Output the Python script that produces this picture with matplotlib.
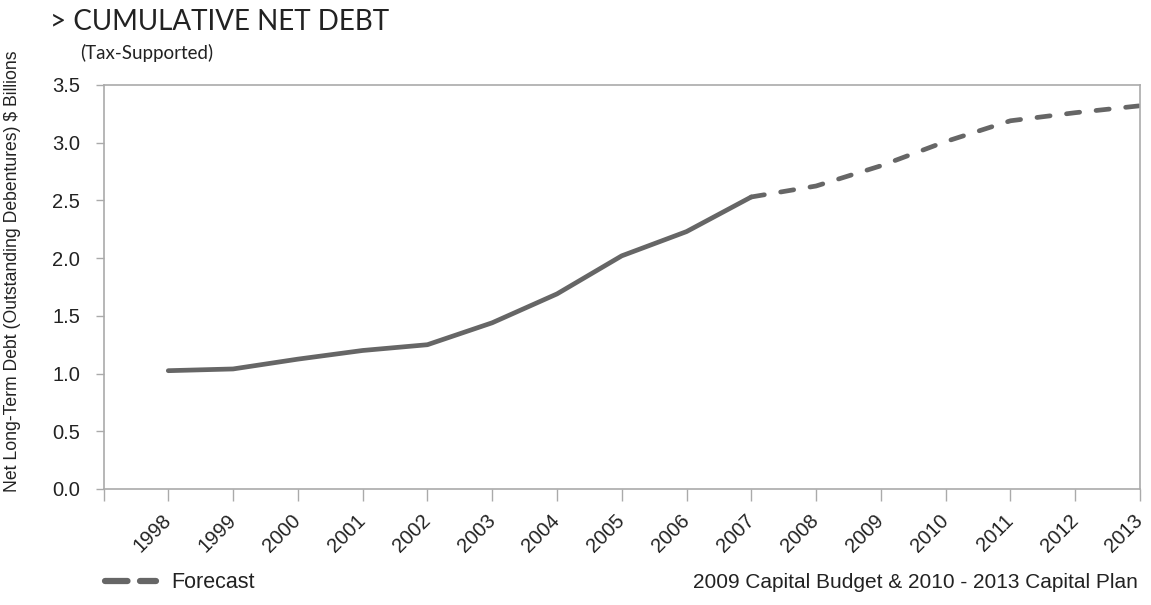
import matplotlib
matplotlib.use("Agg")
import matplotlib.pyplot as plt
from matplotlib.lines import Line2D

years = [1998, 1999, 2000, 2001, 2002, 2003, 2004, 2005, 2006, 2007,
         2008, 2009, 2010, 2011, 2012, 2013]
debt = [1.025, 1.04, 1.125, 1.20, 1.25, 1.44, 1.69, 2.02, 2.23, 2.53,
        2.625, 2.80, 3.01, 3.19, 3.26, 3.32]
actual_end = 2007
y_ticks = [0.0, 0.5, 1.0, 1.5, 2.0, 2.5, 3.0, 3.5]
x_tick_labels = [str(y) for y in years]

title = "> CUMULATIVE NET DEBT"
subtitle = "(Tax-Supported)"
ylabel = "Net Long-Term Debt (Outstanding Debentures) $ Billions"
footer = "2009 Capital Budget & 2010 - 2013 Capital Plan"
legend_label = "Forecast"

LINE = "#666666"
SPINE = "#aaaaaa"
TXT = "#222222"
plt.rcParams['font.family'] = ['Liberation Sans', 'DejaVu Sans']

fig = plt.figure(figsize=(11.51, 6.05), dpi=100)
ax = fig.add_axes([103.5 / 1151, (605 - 489) / 605, (1140 - 103.5) / 1151, (489 - 85) / 605])

i_split = years.index(actual_end)
ax.plot(years[:i_split + 1], debt[:i_split + 1], color=LINE, lw=3.4,
        solid_capstyle='round', solid_joinstyle='round')
ax.plot(years[i_split:], debt[i_split:], color=LINE, lw=3.4,
        dashes=(2.8, 3.5), dash_capstyle='round', dash_joinstyle='round')

ax.set_xlim(years[0] - 1, years[-1])
ax.set_ylim(y_ticks[0], y_ticks[-1])
ax.set_xticks([years[0] - 1] + years)
ax.set_xticklabels([""] + x_tick_labels, rotation=45, ha='right', va='center',
                   rotation_mode='anchor', fontsize=14.5, color=TXT)
ax.set_yticks(y_ticks)
ax.set_yticklabels([f"{v:.1f}" for v in y_ticks], fontsize=14.5, color=TXT)
ax.tick_params(axis='x', length=8.5, width=1, color=SPINE, pad=12)
ax.tick_params(axis='y', length=6, width=1, color=SPINE, pad=11)
for s in ax.spines.values():
    s.set_color(SPINE)
    s.set_linewidth(1.2)

fig.text(13 / 1151, 1 - 271 / 605, ylabel, rotation=90, ha='center', va='center',
         fontsize=12.7, color=TXT)

fig.text(50 / 1151, 1 - 30 / 605, title, ha='left', va='baseline',
         fontsize=20, color=TXT, family=['Lato', 'DejaVu Sans'])
fig.text(80 / 1151, 1 - 59 / 605, subtitle, ha='left', va='baseline',
         fontsize=13.5, color=TXT, family=['Lato', 'DejaVu Sans'])

fig.text(1138 / 1151, 1 - 582 / 605, footer, ha='right', va='center',
         fontsize=15, color=TXT)

handle = Line2D([], [], color=LINE, lw=4.5, dashes=(3.6, 2.0), dash_capstyle='round')
fig.legend(handles=[handle], labels=[legend_label], loc='center left',
           bbox_to_anchor=(105 / 1151, 1 - 583 / 605), frameon=False,
           fontsize=15.5, handlelength=2.35, handletextpad=0.75,
           labelcolor=TXT, borderpad=0, borderaxespad=0)

fig.savefig("out.png", dpi=100)
